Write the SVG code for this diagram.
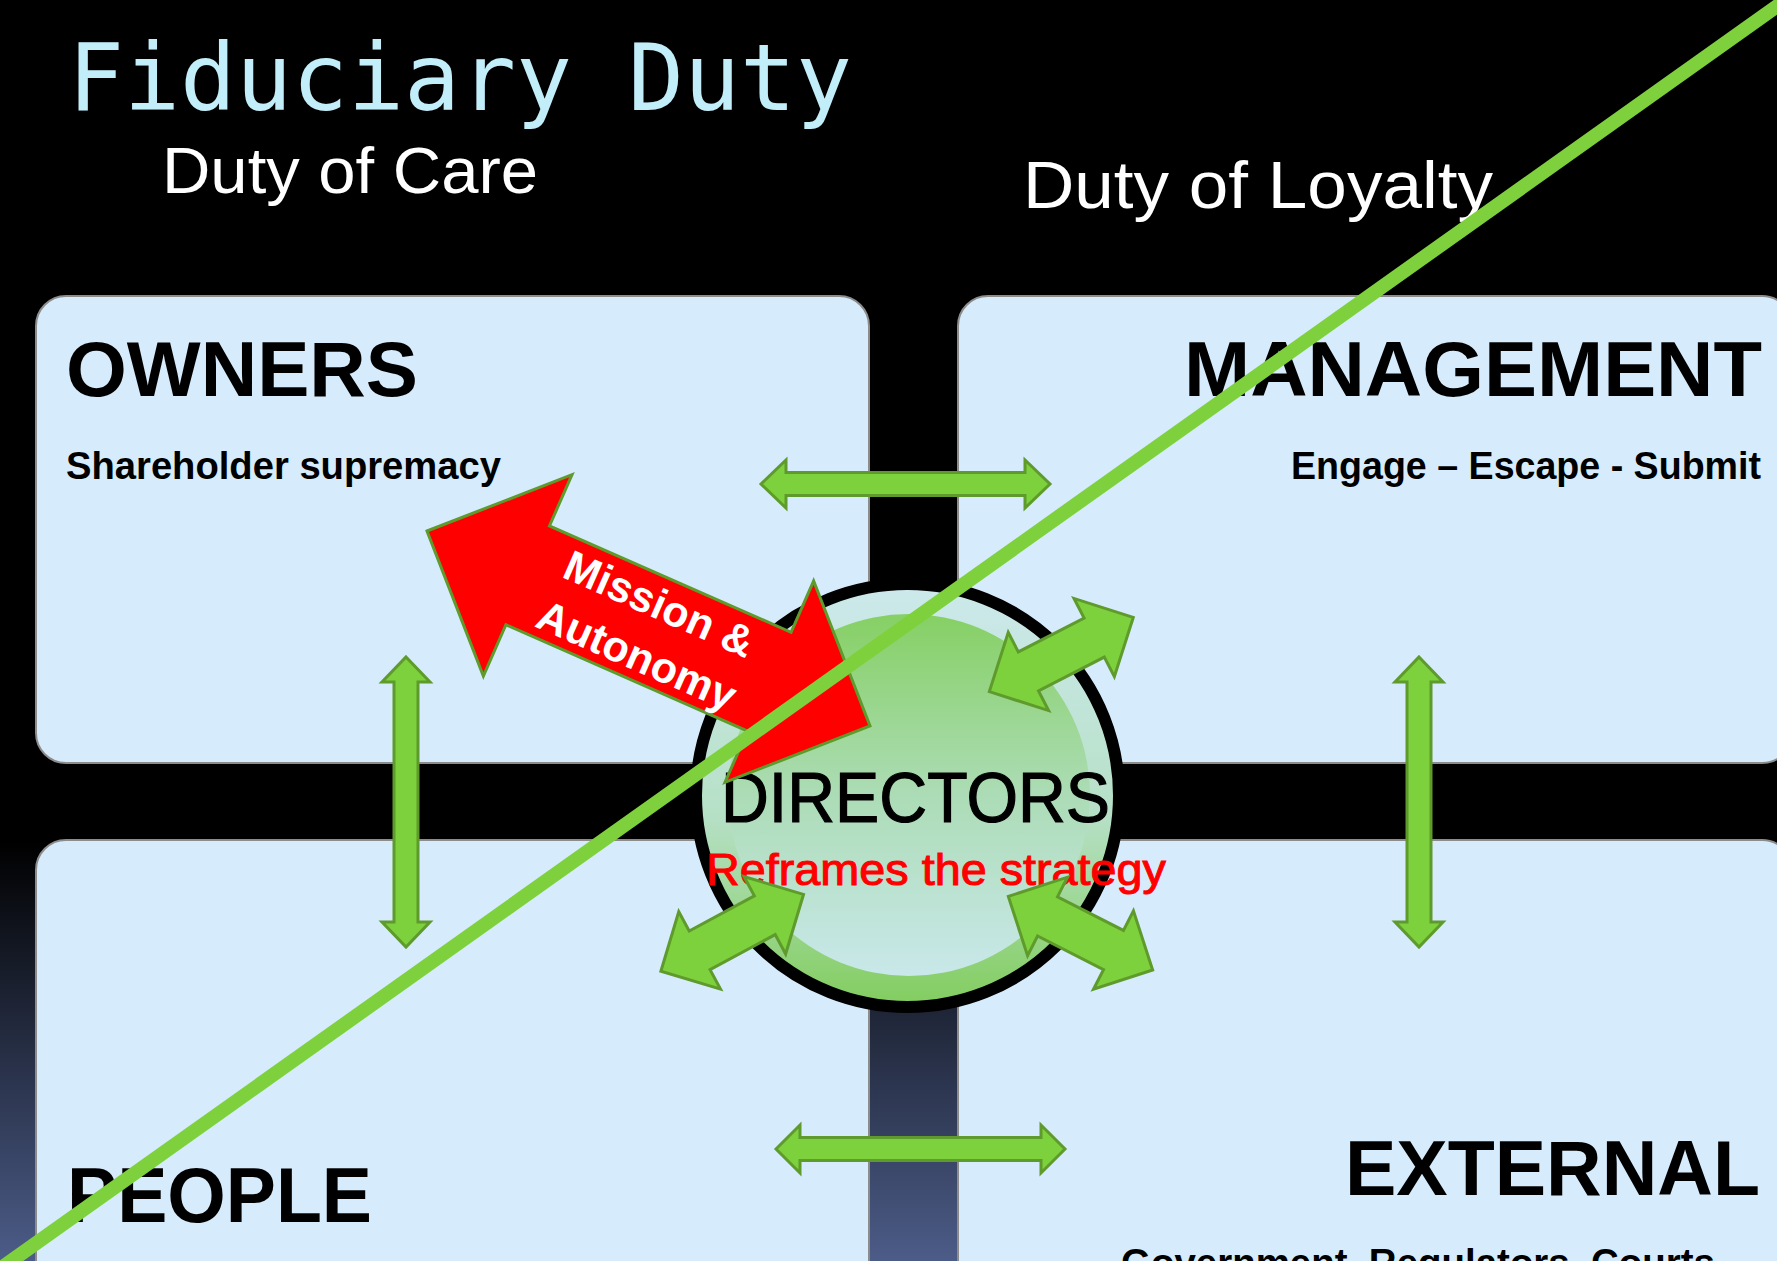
<svg xmlns="http://www.w3.org/2000/svg" width="1777" height="1261" viewBox="0 0 1777 1261">
  <defs>
    <linearGradient id="bg" gradientUnits="userSpaceOnUse" x1="0" y1="840" x2="0" y2="1261">
      <stop offset="0" stop-color="#000000"/>
      <stop offset="1" stop-color="#4c5c88"/>
    </linearGradient>
    <linearGradient id="discOuter" x1="0" y1="0" x2="0" y2="1">
      <stop offset="0" stop-color="#cde9ec"/>
      <stop offset="0.55" stop-color="#b6e0c6"/>
      <stop offset="1" stop-color="#82cd5e"/>
    </linearGradient>
    <linearGradient id="discInner" x1="0" y1="0" x2="0" y2="1">
      <stop offset="0" stop-color="#86d064"/>
      <stop offset="0.5" stop-color="#acdcb6"/>
      <stop offset="1" stop-color="#c9e8ea"/>
    </linearGradient>
    <style>
      .panel { fill: #d6ecfc; stroke: #8c8c8c; stroke-width: 2; }
      .head { font-family: "Liberation Sans", Arial, sans-serif; font-weight: bold; font-size: 78px; fill: #000; }
      .sub { font-family: "Liberation Sans", Arial, sans-serif; font-weight: bold; font-size: 38px; fill: #000; }
      .duty { font-family: "Liberation Sans", Arial, sans-serif; fill: #ffffff; }
      .garrow { fill: #7dd13c; stroke: #5f9a2d; stroke-width: 3; stroke-linejoin: miter; }
      .rarrow { fill: #ff0000; stroke: #5f9a2d; stroke-width: 3; }
      .mission { font-family: "Liberation Sans", Arial, sans-serif; font-weight: bold; font-size: 43px; fill: #ffffff; text-anchor: middle; }
    </style>
  </defs>

  <rect x="0" y="0" width="1777" height="1261" fill="url(#bg)"/>

  <g id="titles">
    <text x="68" y="110" font-family="'DejaVu Sans Mono', 'Liberation Mono', monospace" font-size="93" fill="#c2eefa">Fiduciary Duty</text>
    <text class="duty" x="162" y="193" font-size="64" textLength="376" lengthAdjust="spacingAndGlyphs">Duty of Care</text>
    <text class="duty" x="1023" y="208" font-size="67" textLength="470" lengthAdjust="spacingAndGlyphs">Duty of Loyalty</text>
  </g>

  <g id="owners">
    <rect class="panel" x="36" y="296" width="833" height="467" rx="30" ry="30"/>
    <text class="head" x="66" y="396" textLength="352" lengthAdjust="spacingAndGlyphs">OWNERS</text>
    <text class="sub" x="66" y="479" textLength="435" lengthAdjust="spacingAndGlyphs">Shareholder supremacy</text>
  </g>

  <g id="management">
    <rect class="panel" x="958" y="296" width="834" height="467" rx="30" ry="30"/>
    <text class="head" x="1184" y="396" textLength="578" lengthAdjust="spacingAndGlyphs">MANAGEMENT</text>
    <text class="sub" x="1291" y="479" textLength="470" lengthAdjust="spacingAndGlyphs">Engage – Escape - Submit</text>
  </g>

  <g id="people">
    <rect class="panel" x="36" y="840" width="833" height="480" rx="30" ry="30"/>
    <text class="head" x="67" y="1222" textLength="305" lengthAdjust="spacingAndGlyphs">PEOPLE</text>
  </g>

  <g id="external">
    <rect class="panel" x="958" y="840" width="834" height="480" rx="30" ry="30"/>
    <text class="head" x="1345" y="1195" textLength="415" lengthAdjust="spacingAndGlyphs">EXTERNAL</text>
    <text class="sub" x="1121" y="1276" textLength="594" lengthAdjust="spacingAndGlyphs">Government, Regulators, Courts</text>
  </g>

  <g id="directors">
    <circle cx="907.5" cy="795.5" r="211.5" fill="url(#discOuter)" stroke="#000000" stroke-width="12"/>
    <circle cx="909" cy="795" r="181" fill="url(#discInner)"/>
    <text x="721" y="822" font-family="'Liberation Sans', Arial, sans-serif" font-size="70" fill="#000000" stroke="#000000" stroke-width="1.2" textLength="389" lengthAdjust="spacingAndGlyphs">DIRECTORS</text>
    <text x="706" y="885" font-family="'Liberation Sans', Arial, sans-serif" font-size="44" fill="#ff0000" stroke="#ff0000" stroke-width="1" textLength="460" lengthAdjust="spacingAndGlyphs">Reframes the strategy</text>
  </g>

  <g id="connectors">
    <!-- owners <-> management -->
    <path class="garrow" d="M761,484 L786,460 L786,472.5 L1025,472.5 L1025,460 L1050,484 L1025,508 L1025,495.5 L786,495.5 L786,508 Z"/>
    <!-- people <-> external -->
    <path class="garrow" d="M776,1149 L800,1125 L800,1137.5 L1041,1137.5 L1041,1125 L1065,1149 L1041,1173 L1041,1160.5 L800,1160.5 L800,1173 Z"/>
    <!-- owners <-> people -->
    <path class="garrow" d="M406,657 L430,682 L418,682 L418,922 L430,922 L406,947 L382,922 L394,922 L394,682 L382,682 Z"/>
    <!-- management <-> external -->
    <path class="garrow" d="M1419,657 L1443,682 L1431,682 L1431,922 L1443,922 L1419,947 L1395,922 L1407,922 L1407,682 L1395,682 Z"/>
    <!-- directors diagonal links -->
    <path class="garrow" transform="translate(1061.3,654.5) rotate(-27.3)" d="M-81,0 L-37,-44 L-37,-22 L37,-22 L37,-44 L81,0 L37,44 L37,22 L-37,22 L-37,44 Z"/>
    <path class="garrow" transform="translate(732.2,932.8) rotate(-28.3)" d="M-81,0 L-37,-44 L-37,-22 L37,-22 L37,-44 L81,0 L37,44 L37,22 L-37,22 L-37,44 Z"/>
    <path class="garrow" transform="translate(1080.5,933.2) rotate(27)" d="M-81,0 L-37,-44 L-37,-22 L37,-22 L37,-44 L81,0 L37,44 L37,22 L-37,22 L-37,44 Z"/>
    <!-- mission & autonomy -->
    <g transform="translate(648.5,628.5) rotate(23.76)">
      <path class="rarrow" d="M-242,0 L-132,-110 L-132,-54 L132,-54 L132,-110 L242,0 L132,110 L132,54 L-132,54 L-132,110 Z"/>
      <text class="mission" x="0" y="-12">Mission &amp;</text>
      <text class="mission" x="0" y="44">Autonomy</text>
    </g>
  </g>

  <g id="strike">
    <line x1="-10" y1="1276" x2="1790" y2="-3" stroke="#7ed13c" stroke-width="14"/>
  </g>
</svg>
